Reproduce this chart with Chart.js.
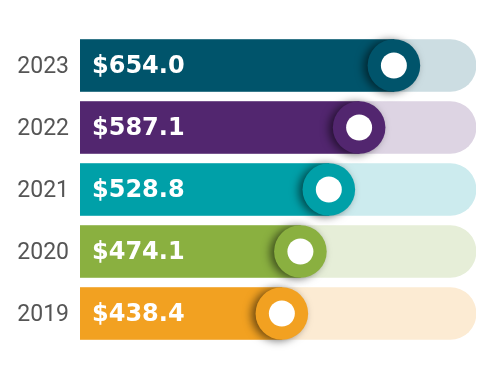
<!DOCTYPE html>
<html>
<head>
<meta charset="utf-8">
<script src="https://cdn.jsdelivr.net/npm/chart.js@4"></script>
<style>
html,body{margin:0;padding:0;background:#fff;}
#wrap{width:500px;height:378px;}
</style>
</head>
<body>
<div id="wrap"><canvas id="c" width="500" height="378"></canvas></div>
<script>
const categories = ['2023', '2022', '2021', '2020', '2019'];
const values = [654.0, 587.1, 528.8, 474.1, 438.4];
const trackMax = 812;
const axisMin = 50;
const barColors = ['#00546B', '#52266F', '#00A0A8', '#8AB040', '#F2A121'];
const trackColors = ['#CCDDE2', '#DDD4E3', '#CCEBEE', '#E6EED8', '#FCEBD3'];

const labelPlugin = {
  id: 'valueLabels',
  afterDatasetsDraw(chart) {
    const ctx = chart.ctx;
    const meta = chart.getDatasetMeta(1);
    ctx.save();
    ctx.fillStyle = '#ffffff';
    ctx.font = 'bold 24px "DejaVu Sans"';
    ctx.textAlign = 'left';
    ctx.textBaseline = 'middle';
    meta.data.forEach((el, i) => {
      ctx.fillText('$' + values[i].toFixed(1), chart.chartArea.left + 12, el.y + 1);
    });
    ctx.restore();
  }
};
const shadowPlugin = {
  id: 'circleShadow',
  beforeDatasetDraw(chart, args) {
    if (args.index === 2) {
      const ctx = chart.ctx;
      ctx.save();
      ctx.shadowColor = 'rgba(0,0,0,0.55)';
      ctx.shadowBlur = 9;
      ctx.shadowOffsetX = -4;
      ctx.shadowOffsetY = 1;
    }
  },
  afterDatasetDraw(chart, args) {
    if (args.index === 2) chart.ctx.restore();
  }
};

new Chart(document.getElementById('c'), {
  type: 'bar',
  data: {
    labels: categories,
    datasets: [
      {
        label: 'track',
        data: categories.map(() => trackMax),
        backgroundColor: trackColors,
        borderRadius: {topLeft: 0, bottomLeft: 0, topRight: 26, bottomRight: 26},
        borderSkipped: false,
        barThickness: 52,
        grouped: false,
        order: 4
      },
      {
        label: 'value',
        data: values,
        backgroundColor: barColors,
        barThickness: 52,
        grouped: false,
        order: 3
      },
      {
        type: 'line',
        label: 'marker ring',
        data: values,
        showLine: false,
        clip: false,
        pointRadius: 26.3,
        pointHoverRadius: 26.3,
        pointBorderWidth: 0,
        pointBackgroundColor: barColors,
        order: 2
      },
      {
        type: 'line',
        label: 'marker center',
        data: values,
        showLine: false,
        clip: false,
        pointRadius: 13,
        pointHoverRadius: 13,
        pointBorderWidth: 0,
        pointBackgroundColor: '#ffffff',
        order: 1
      }
    ]
  },
  options: {
    indexAxis: 'y',
    responsive: false,
    animation: false,
    events: [],
    layout: {autoPadding: false, padding: {top: 34.5, bottom: 33.5, right: 24, left: 0}},
    plugins: {legend: {display: false}, tooltip: {enabled: false}},
    scales: {
      x: {
        display: false,
        min: axisMin,
        max: trackMax
      },
      y: {
        afterFit(axis) { axis.width = 80; },
        grid: {display: false, drawTicks: false},
        border: {display: false},
        ticks: {
          color: '#555555',
          padding: 11,
          labelOffset: 2,
          font: {family: '"Liberation Sans Narrow", "Roboto"', size: 23}
        }
      }
    }
  },
  plugins: [shadowPlugin, labelPlugin]
});
</script>
</body>
</html>
